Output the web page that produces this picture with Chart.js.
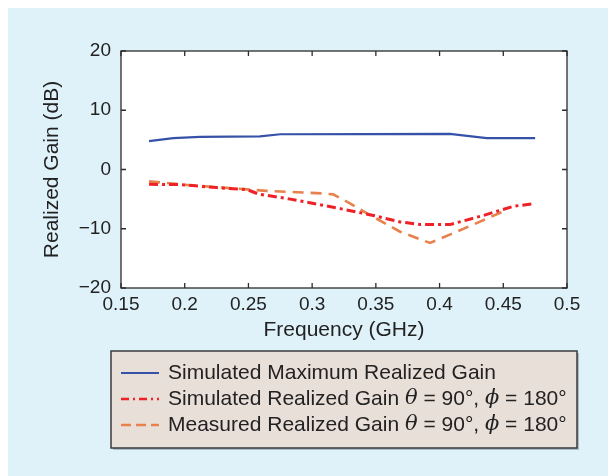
<!DOCTYPE html>
<html>
<head>
<meta charset="utf-8">
<script src="https://cdn.jsdelivr.net/npm/chart.js@4/dist/chart.umd.min.js"></script>
<style>
  body { margin: 0; background: #ffffff; }
  #wrap { position: relative; width: 608px; height: 476px; }
</style>
</head>
<body>
<div id="wrap"><canvas id="gainChart" width="608" height="476"></canvas></div>
<script>
// tick values
const xTicks = [0.15, 0.2, 0.25, 0.3, 0.35, 0.4, 0.45, 0.5];
const yTicks = [-20, -10, 0, 10, 20];

// Simulated maximum realized gain
const freqMax = [0.172, 0.191, 0.212, 0.259, 0.275, 0.408, 0.437, 0.475];
const gainMax = [4.8, 5.3, 5.5, 5.6, 5.95, 6.0, 5.3, 5.3];

// Simulated realized gain theta=90, phi=180
const freqSim = [0.172, 0.196, 0.225, 0.249, 0.258, 0.283, 0.322, 0.348, 0.369, 0.385, 0.408, 0.4345, 0.458, 0.475];
const gainSim = [-2.5, -2.55, -3.05, -3.4, -4.15, -5.0, -6.6, -7.75, -8.85, -9.3, -9.3, -7.75, -6.2, -5.75];

// Measured realized gain theta=90, phi=180
const freqMeas = [0.172, 0.204, 0.233, 0.249, 0.264, 0.309, 0.3165, 0.330, 0.3455, 0.369, 0.3925, 0.408, 0.451];
const gainMeas = [-2.0, -2.65, -3.1, -3.35, -3.6, -4.05, -4.2, -5.75, -7.7, -10.5, -12.4, -11.0, -7.0];

const FONT = '"Liberation Sans", Arial, Helvetica, sans-serif';
const toPts = (xs, ys) => xs.map((x, i) => ({ x: x, y: ys[i] }));
const minus = v => String(v).replace('-', '\u2212');

// legend entries, greek parts drawn in italic
const legendItems = [
  { color: '#3652a8', dash: [], parts: [['Simulated Maximum Realized Gain', false]] },
  { color: '#ee2126', dash: [8, 4, 2, 4], parts: [['Simulated Realized Gain ', false], ['\u03b8', true], [' = 90\u00b0, ', false], ['\u03d5', true], [' = 180\u00b0', false]] },
  { color: '#e8824c', dash: [10, 5], parts: [['Measured Realized Gain ', false], ['\u03b8', true], [' = 90\u00b0, ', false], ['\u03d5', true], [' = 180\u00b0', false]] }
];

const framePlugin = {
  id: 'frame',
  beforeDraw(chart) {
    const ctx = chart.ctx;
    ctx.save();
    ctx.fillStyle = '#ffffff';
    ctx.fillRect(0, 0, chart.width, chart.height);
    ctx.fillStyle = '#dff2fa';
    ctx.fillRect(8, 8, chart.width - 8, chart.height - 8);
    const a = chart.chartArea;
    ctx.fillStyle = '#ffffff';
    ctx.fillRect(a.left, a.top, a.right - a.left, a.bottom - a.top);
    ctx.restore();
  },
  afterDraw(chart) {
    const ctx = chart.ctx;
    const a = chart.chartArea;
    const xs = chart.scales.x, ys = chart.scales.y;
    ctx.save();
    // box and inward ticks
    ctx.strokeStyle = '#2b2b2b';
    ctx.lineWidth = 1.3;
    ctx.strokeRect(a.left, a.top, a.right - a.left, a.bottom - a.top);
    ctx.beginPath();
    xTicks.forEach(v => {
      const px = xs.getPixelForValue(v);
      ctx.moveTo(px, a.bottom); ctx.lineTo(px, a.bottom - 5);
      ctx.moveTo(px, a.top); ctx.lineTo(px, a.top + 5);
    });
    yTicks.forEach(v => {
      const py = ys.getPixelForValue(v);
      ctx.moveTo(a.left, py); ctx.lineTo(a.left + 5, py);
      ctx.moveTo(a.right, py); ctx.lineTo(a.right - 5, py);
    });
    ctx.stroke();

    // legend box
    const bx = 111, by = 351, bw = 466, bh = 97;
    ctx.fillStyle = 'rgba(70,90,110,0.35)';
    ctx.fillRect(bx + 2, by + 2, bw, bh);
    ctx.fillStyle = '#e9dfd9';
    ctx.fillRect(bx, by, bw, bh);
    ctx.strokeStyle = '#3a3a3a';
    ctx.lineWidth = 1.5;
    ctx.strokeRect(bx, by, bw, bh);

    const rowY = [373, 399, 425];
    legendItems.forEach((item, i) => {
      const y = rowY[i];
      ctx.strokeStyle = item.color;
      ctx.lineWidth = item.dash.length ? 2.5 : 1.8;
      ctx.setLineDash(item.dash);
      ctx.beginPath();
      ctx.moveTo(121, y);
      ctx.lineTo(159, y);
      ctx.stroke();
      ctx.setLineDash([]);
      let tx = 168;
      ctx.fillStyle = '#222222';
      ctx.textBaseline = 'middle';
      item.parts.forEach(([txt, it]) => {
        ctx.font = (it ? 'italic ' : '') + '21px ' + (it ? '"DejaVu Serif", serif' : FONT);
        ctx.fillText(txt, tx, y);
        tx += ctx.measureText(txt).width;
      });
    });
    ctx.restore();
  }
};

new Chart(document.getElementById('gainChart'), {
  type: 'line',
  data: {
    datasets: [
      { label: 'Simulated Maximum Realized Gain', data: toPts(freqMax, gainMax), borderColor: '#3652a8', borderWidth: 2.2 },
      { label: 'Simulated Realized Gain', data: toPts(freqSim, gainSim), borderColor: '#ee2126', borderWidth: 3, borderDash: [9, 4, 3, 4] },
      { label: 'Measured Realized Gain', data: toPts(freqMeas, gainMeas), borderColor: '#e8824c', borderWidth: 2.6, borderDash: [11, 7] }
    ]
  },
  options: {
    responsive: false,
    animation: false,
    elements: { point: { radius: 0 }, line: { tension: 0, fill: false } },
    layout: { padding: { top: 51, right: 41, left: 0, bottom: 0 } },
    plugins: { legend: { display: false }, tooltip: { enabled: false } },
    scales: {
      x: {
        type: 'linear',
        min: 0.15, max: 0.5,
        afterBuildTicks: s => { s.ticks = xTicks.map(v => ({ value: v })); },
        afterFit: s => { s.height = 188; },
        grid: { display: false, drawTicks: false },
        border: { display: false },
        ticks: { color: '#222', font: { family: FONT, size: 19 }, padding: 5, maxRotation: 0, autoSkip: false, callback: v => String(v) },
        title: { display: true, text: 'Frequency (GHz)', color: '#222', font: { family: FONT, size: 21 }, padding: { top: 0, bottom: 133 } }
      },
      y: {
        min: -20, max: 20,
        afterBuildTicks: s => { s.ticks = yTicks.map(v => ({ value: v })); },
        afterFit: s => { s.width = 121; },
        grid: { display: false, drawTicks: false },
        border: { display: false },
        ticks: { color: '#222', font: { family: FONT, size: 19 }, padding: 10, autoSkip: false, callback: v => minus(v) },
        title: { display: true, text: 'Realized Gain (dB)', color: '#222', font: { family: FONT, size: 21 }, padding: { top: 40, bottom: 0 } }
      }
    }
  },
  plugins: [framePlugin]
});
</script>
</body>
</html>
